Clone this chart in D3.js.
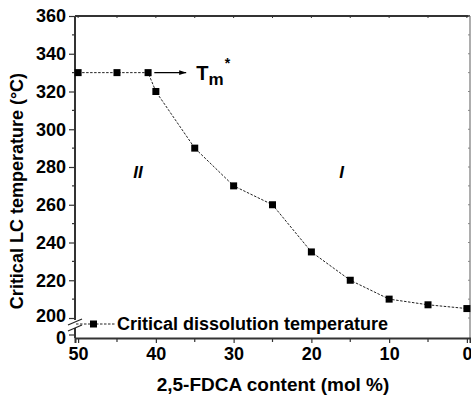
<!DOCTYPE html>
<html><head><meta charset="utf-8">
<script src="https://cdn.jsdelivr.net/npm/d3@7"></script>
<style>
body{margin:0;background:#fff;}
text{font-family:"Liberation Sans",Arial,sans-serif;font-weight:bold;fill:#000;}
</style></head>
<body><svg id="c" width="471" height="396"></svg>
<script>
const xValues = [50,45,41,40,35,30,25,20,15,10,5,0];
const yValues = [330,330,330,320,290,270,260,235,220,210,207,205];
const xTicks = [50,40,30,20,10,0];
const xMinor = [45,35,25,15,5];
const yTicks = [200,220,240,260,280,300,320,340,360];
const yMinor = [210,230,250,270,290,310,330,350];
const yLowTicks = [0];
const xTitle = "2,5-FDCA content (mol %)";
const yTitle = "Critical LC temperature (°C)";
const legendLabel = "Critical dissolution temperature";

const svg = d3.select("#c");
const L = 75, R = 470, T = 16, B = 338;
const x = d3.scaleLinear().domain([50.4,-0.4]).range([L,R]);
const y = d3.scaleLinear().domain([200,360]).range([318,T]);
const yLow = d3.scaleLinear().domain([0,10]).range([337.5,327.5]);
const axCol = "#333";
const fs = "18px";

// frame: top and right
svg.append("line").attr("x1",L).attr("x2",R).attr("y1",T).attr("y2",T).attr("stroke",axCol).attr("stroke-width",2);
svg.append("line").attr("x1",R).attr("x2",R).attr("y1",T).attr("y2",B).attr("stroke","#777").attr("stroke-width",1.2);
svg.append("g").selectAll("line").data(xTicks.concat(xMinor)).join("line")
  .attr("x1",d=>x(d)).attr("x2",d=>x(d)).attr("y1",T).attr("y2",T+2).attr("stroke",axCol).attr("stroke-width",1);
svg.append("g").selectAll("line").data(yTicks.concat(yMinor)).join("line")
  .attr("x1",R).attr("x2",R-2).attr("y1",d=>y(d)).attr("y2",d=>y(d)).attr("stroke","#888").attr("stroke-width",1);

// bottom axis
const xAxis = d3.axisBottom(x).tickValues(xTicks).tickSize(5).tickPadding(4).tickFormat(d3.format("d"));
const gx = svg.append("g").attr("transform",`translate(0,${B})`).call(xAxis);
gx.select(".domain").attr("stroke",axCol).attr("stroke-width",2);
gx.selectAll(".tick line").attr("stroke",axCol).attr("stroke-width",1.2);
gx.selectAll("text").style("font-size",fs).style("font-family","Liberation Sans").style("font-weight","bold").attr("fill","#000");
svg.append("g").selectAll("line").data(xMinor).join("line")
  .attr("x1",d=>x(d)).attr("x2",d=>x(d)).attr("y1",B).attr("y2",B+4).attr("stroke",axCol).attr("stroke-width",1.2);

// left axis upper
const yAxis = d3.axisLeft(y).tickValues(yTicks).tickSize(6).tickPadding(3).tickSizeOuter(0);
const gy = svg.append("g").attr("transform",`translate(${L},0)`).call(yAxis);
gy.select(".domain").attr("stroke",axCol).attr("stroke-width",2).attr("d",`M0,${T}V${y(200)+2}`);
gy.selectAll(".tick line").attr("stroke",axCol).attr("stroke-width",1.2);
gy.selectAll("text").style("font-size",fs).style("font-family","Liberation Sans").style("font-weight","bold").attr("fill","#000");
gy.selectAll(".tick").filter(d=>d===200).select("text").attr("dy","0.2em");
svg.append("g").selectAll("line").data(yMinor).join("line")
  .attr("x1",L-3).attr("x2",L).attr("y1",d=>y(d)).attr("y2",d=>y(d)).attr("stroke",axCol).attr("stroke-width",1.2);

// left axis lower
const yLowAxis = d3.axisLeft(yLow).tickValues(yLowTicks).tickSize(6).tickPadding(3).tickSizeOuter(0);
const gyl = svg.append("g").attr("transform",`translate(${L},0)`).call(yLowAxis);
gyl.select(".domain").attr("stroke",axCol).attr("stroke-width",2).attr("d",`M0,${328}V${B}`);
gyl.selectAll(".tick line").attr("stroke",axCol).attr("stroke-width",1.2).attr("transform","translate(0,-3)");
gyl.selectAll("text").style("font-size",fs).style("font-family","Liberation Sans").style("font-weight","bold").attr("fill","#000");

// break marks
[0,6].forEach(o=>{
  svg.append("line").attr("x1",L-7).attr("y1",y(200)+7+o).attr("x2",L+7).attr("y2",y(200)+1+o)
    .attr("stroke","#222").attr("stroke-width",1.2);
});

// data line
const line = d3.line().x((d,i)=>x(xValues[i])).y(d=>y(d));
svg.append("path").datum(yValues).attr("d",line).attr("fill","none")
  .attr("stroke","#222").attr("stroke-width",1).attr("stroke-dasharray","2.5,1.5");
svg.append("g").selectAll("rect").data(yValues).join("rect")
  .attr("x",(d,i)=>x(xValues[i])-3.5).attr("y",d=>y(d)-3.5).attr("width",7).attr("height",7).attr("fill","#000");

// arrow
svg.append("defs").append("marker").attr("id","ah").attr("viewBox","0 0 10 10").attr("refX",10).attr("refY",5)
  .attr("markerWidth",7).attr("markerHeight",7).attr("markerUnits","userSpaceOnUse").attr("orient","auto")
  .append("path").attr("d","M0,1.5L10,5L0,8.5Z").attr("fill","#000");
svg.append("line").attr("x1",x(40.2)).attr("x2",x(36.1)).attr("y1",y(330)).attr("y2",y(330))
  .attr("stroke","#000").attr("stroke-width",1.2).attr("marker-end","url(#ah)");
const tm = svg.append("text").attr("x",x(34.8)).attr("y",y(330)+7).style("font-size","20px");
tm.append("tspan").text("T");
tm.append("tspan").attr("dy",5).style("font-size","17px").text("m");
tm.append("tspan").attr("dy",-17).attr("dx",1).style("font-size","14px").text("*");

// region labels
svg.append("text").attr("x",x(42.9)).attr("y",y(274)).style("font-size","17px").style("font-style","italic").text("II");
svg.append("text").attr("x",x(16.4)).attr("y",y(274)).style("font-size","17px").style("font-style","italic").text("I");

// legend
svg.append("line").attr("x1",L+1).attr("x2",L+40).attr("y1",324).attr("y2",324)
  .attr("stroke","#222").attr("stroke-width",1).attr("stroke-dasharray","2.5,1.5");
svg.append("rect").attr("x",L+15).attr("y",320.5).attr("width",7).attr("height",7).attr("fill","#000");
svg.append("text").attr("x",L+42).attr("y",330).style("font-size",fs).text(legendLabel);

// titles
svg.append("text").attr("x",273).attr("y",391).attr("text-anchor","middle").style("font-size","19px").text(xTitle);
svg.append("text").attr("transform",`translate(23,${191}) rotate(-90)`).attr("text-anchor","middle").style("font-size","18px").text(yTitle);
</script></body></html>
